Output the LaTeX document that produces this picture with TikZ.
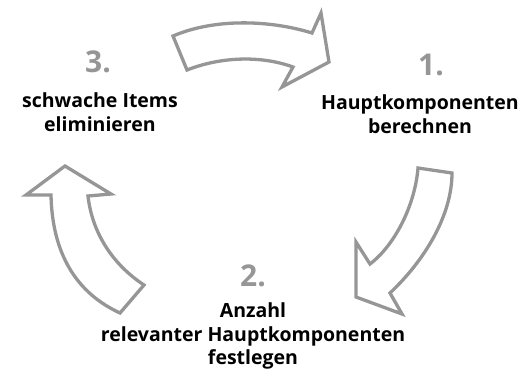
\documentclass[tikz,border=0pt]{standalone}
\usepackage{fontspec}
\setmainfont{Open Sans}
\definecolor{arrowgray}{RGB}{150,150,150}
\definecolor{numgray}{RGB}{150,150,150}
\begin{document}
\begin{tikzpicture}[x=1pt,y=-1pt,
  bigarrow/.style={draw=arrowgray,line width=3.3pt,line join=miter,fill=white},
  numlabel/.style={text=numgray,font=\fontsize{30}{32}\selectfont\bfseries,inner sep=0pt},
  steplabel/.style={align=center,font=\fontsize{19.5}{23.5}\selectfont\bfseries,inner sep=0pt}]
\useasboundingbox (0,0) rectangle (531,376);
% top arrow
\draw[bigarrow] (173,36) .. controls (215,18) and (270,20) .. (312,33) -- (321,13) -- (329,62) -- (282,87) -- (293,67) .. controls (260,55) and (220,57) .. (187,70) -- cycle;
% right arrow
\draw[bigarrow] (418,168) -- (452,173) .. controls (452,215) and (425,260) .. (390,293) -- (402,314) -- (356,297) -- (356,242) -- (370,264) .. controls (395,245) and (415,205) .. (418,168) -- cycle;
% left arrow
\draw[bigarrow] (65,166) -- (111,194) -- (88,196) .. controls (92,232) and (112,264) .. (144,285) -- (120,313) .. controls (70,290) and (52,245) .. (51,195) -- (26,195) -- cycle;
% labels
\node[numlabel] (n1) at (431,65) {1.};
\node[steplabel] (t1) at (420,114) {Hauptkomponenten\\berechnen};
\node[numlabel] (n2) at (253,276) {2.};
\node[steplabel] (t2) at (253,336) {Anzahl\\relevanter Hauptkomponenten\\festlegen};
\node[numlabel] (n3) at (98,62) {3.};
\node[steplabel] (t3) at (100,112) {schwache Items\\eliminieren};
\end{tikzpicture}
\end{document}
